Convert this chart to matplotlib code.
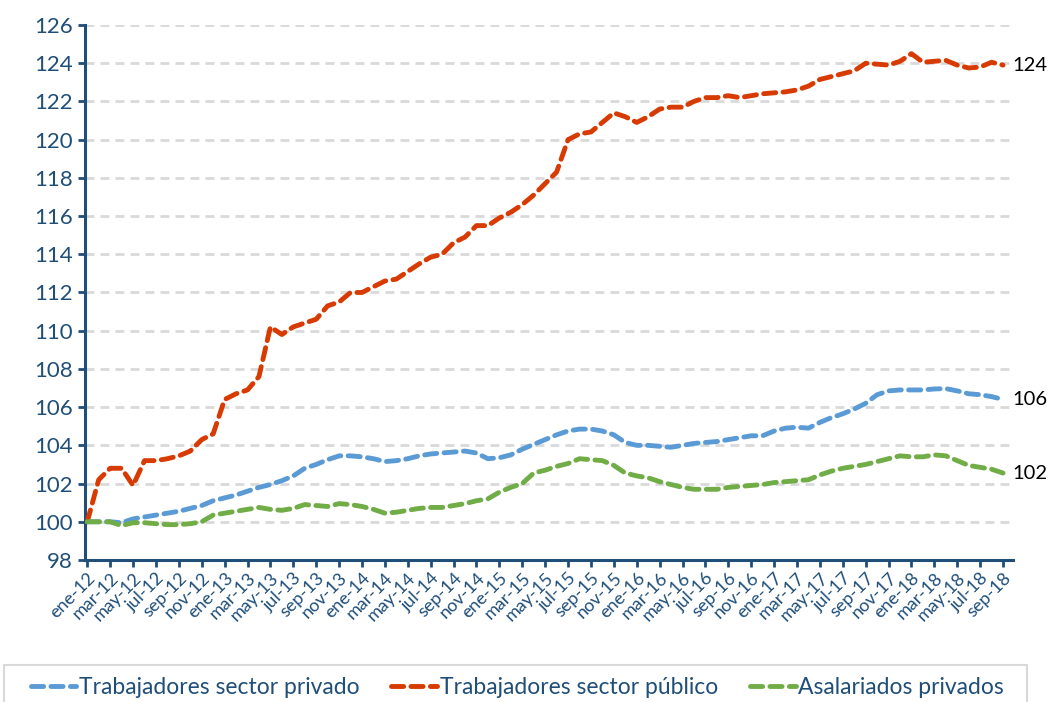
import matplotlib.pyplot as plt
from matplotlib.patches import Rectangle
import numpy as np

# Month labels ene-12 .. sep-18
meses = ['ene', 'feb', 'mar', 'abr', 'may', 'jun', 'jul', 'ago', 'sep', 'oct', 'nov', 'dic']
labels = [f"{meses[i % 12]}-{12 + i // 12}" for i in range(81)]

privado = [100.0, 100.0, 100.0, 99.95, 100.15, 100.25, 100.35, 100.45, 100.55, 100.7,
           100.85, 101.1, 101.25, 101.4, 101.6, 101.8, 101.95, 102.15, 102.4, 102.8,
           103.0, 103.25, 103.45, 103.45, 103.4, 103.3, 103.15, 103.2, 103.3, 103.45,
           103.55, 103.6, 103.65, 103.7, 103.6, 103.3, 103.35, 103.5, 103.8, 104.05,
           104.3, 104.55, 104.75, 104.85, 104.85, 104.75, 104.55, 104.15, 104.0, 104.0,
           103.95, 103.9, 104.0, 104.1, 104.15, 104.2, 104.3, 104.4, 104.5, 104.5,
           104.75, 104.9, 104.95, 104.9, 105.2, 105.45, 105.65, 105.9, 106.2, 106.65,
           106.85, 106.9, 106.9, 106.9, 106.95, 106.97, 106.85, 106.7, 106.65, 106.55,
           106.4]

publico = [100.0, 102.2, 102.8, 102.8, 101.9, 103.2, 103.2, 103.3, 103.45, 103.7,
           104.3, 104.6, 106.4, 106.7, 106.9, 107.6, 110.2, 109.8, 110.2, 110.4,
           110.6, 111.3, 111.5, 112.0, 112.0, 112.3, 112.6, 112.7, 113.1, 113.5,
           113.85, 114.0, 114.6, 114.9, 115.5, 115.5, 115.9, 116.2, 116.6, 117.1,
           117.7, 118.3, 120.0, 120.3, 120.4, 120.9, 121.4, 121.2, 120.9, 121.2,
           121.6, 121.7, 121.7, 122.0, 122.2, 122.2, 122.3, 122.2, 122.3, 122.4,
           122.45, 122.5, 122.6, 122.8, 123.15, 123.3, 123.45, 123.6, 124.0, 123.95,
           123.9, 124.1, 124.5, 124.05, 124.1, 124.15, 123.9, 123.75, 123.8, 124.05,
           123.9]

asalariados = [100.0, 100.0, 100.0, 99.8, 99.95, 99.95, 99.9, 99.85, 99.85, 99.9,
               100.0, 100.35, 100.45, 100.55, 100.65, 100.75, 100.65, 100.6, 100.7, 100.9,
               100.85, 100.8, 100.95, 100.9, 100.8, 100.65, 100.45, 100.5, 100.6, 100.7,
               100.75, 100.75, 100.85, 100.95, 101.1, 101.2, 101.55, 101.8, 102.0, 102.55,
               102.7, 102.9, 103.05, 103.3, 103.25, 103.2, 102.95, 102.55, 102.4, 102.3,
               102.1, 101.95, 101.8, 101.7, 101.7, 101.7, 101.8, 101.85, 101.9, 101.95,
               102.05, 102.1, 102.15, 102.2, 102.45, 102.65, 102.8, 102.9, 103.0, 103.15,
               103.3, 103.45, 103.4, 103.4, 103.5, 103.45, 103.2, 102.95, 102.85, 102.75,
               102.55]

series = [
    ("Trabajadores sector privado", privado, "#5B9BD5", "106"),
    ("Trabajadores sector público", publico, "#D83B01", "124"),
    ("Asalariados privados", asalariados, "#70AD47", "102"),
]

navy = "#1F4E79"
plt.rcParams['font.family'] = ['Lato', 'DejaVu Sans']

fig = plt.figure(figsize=(10.49, 7.02), dpi=100)
ax = fig.add_axes([0.081, 0.2023, 0.885, 0.7621])

x = np.arange(len(labels))
for name, vals, color, end in series:
    ax.plot(x, vals, color=color, lw=3.5, dashes=(2.5, 1.5),
            dash_capstyle='round', label=name, zorder=3)
    ax.text(x[-1] + 0.8, vals[-1], end, va='center', ha='left',
            fontsize=14.5, color='black')

ax.set_xlim(-0.2, 80.9)
ax.set_ylim(98, 126)
ax.set_yticks(np.arange(98, 127, 2))
ax.set_xticks(x[::2])
ax.set_xticklabels(labels[::2], rotation=45, ha='right', rotation_mode='anchor',
                   fontsize=13, color=navy)
ax.tick_params(axis='y', labelsize=16, colors=navy, length=5, width=2)
ax.tick_params(axis='x', colors=navy, length=5, width=2, pad=2)

for yv in range(100, 127, 2):
    ax.axhline(yv, color='#D9D9D9', lw=2, dashes=(3.2, 2.2), zorder=1)

for s in ['top', 'right']:
    ax.spines[s].set_visible(False)
for s in ['left', 'bottom']:
    ax.spines[s].set_color(navy)
    ax.spines[s].set_linewidth(2.2)

# legend box running off the bottom edge, as in the source
fig.patches.append(Rectangle((0.004, -0.05), 0.975, 0.103, transform=fig.transFigure,
                             facecolor='none', edgecolor='#D9D9D9', lw=1.5))
leg = fig.legend(loc='center', ncol=3, bbox_to_anchor=(0.493, 0.02), fontsize=16.5,
                 handlelength=2.0, handletextpad=0.1, columnspacing=1.4,
                 frameon=False, borderaxespad=0)
for t in leg.get_texts():
    t.set_color(navy)

fig.savefig("out.png", dpi=100)
